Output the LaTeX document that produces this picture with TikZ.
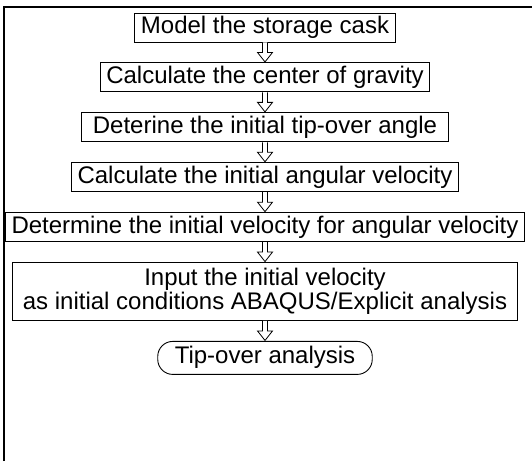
\documentclass[tikz,border=0pt]{standalone}
\usepackage{fontspec}
\setmainfont{Liberation Sans}
\usetikzlibrary{positioning,calc}

% hollow block arrow from the bottom of one box to the top of the next
\newcommand{\hollowdown}[2]{%
  \draw[fill=white,line width=0.8pt,line join=miter] let \p1=(#1.south), \p2=(#2.north) in
    (\x2-2.5pt,\y1) -- (\x2-2.5pt,\y2+10pt) -- (\x2-7.5pt,\y2+10pt) -- (\x2,\y2+0.5pt)
    -- (\x2+7.5pt,\y2+10pt) -- (\x2+2.5pt,\y2+10pt) -- (\x2+2.5pt,\y1);}

\begin{document}
\begin{tikzpicture}[auto,node distance=20pt,
                    task node/.style={draw,line width=0.9pt,font=\fontsize{24}{24}\selectfont,
                      text height=17.5pt,text depth=5.5pt,inner xsep=6pt,inner ysep=3pt,align=center},
                    end node/.style={task node,rounded corners=15pt,inner xsep=17pt,inner ysep=5pt}]

  \useasboundingbox (0,0) rectangle (532pt,-461pt);
  \draw[line width=1.5pt] (4pt,-461pt) -- (4pt,-7pt) -- (532pt,-7pt);

  \node[task node] (1) at (265pt,-27.5pt) {Model the storage cask};
  \node[task node] (2) [below=of 1] {Calculate the center of gravity};
  \node[task node,minimum width=367pt] (3) [below=of 2] {Deterine the initial tip-over angle};
  \node[task node] (4) [below=of 3] {Calculate the initial angular velocity};
  \node[task node] (5) [below=of 4] {Determine the initial velocity for angular velocity};
  \node[task node,text height=41.5pt,inner xsep=10pt,inner ysep=5.5pt] (6) [below=of 5]
    {Input the initial velocity\\as initial conditions ABAQUS/Explicit analysis};
  \node[end node] (7) [below=of 6] {Tip-over analysis};

  \hollowdown{1}{2}
  \hollowdown{2}{3}
  \hollowdown{3}{4}
  \hollowdown{4}{5}
  \hollowdown{5}{6}
  \hollowdown{6}{7}
\end{tikzpicture}
\end{document}
